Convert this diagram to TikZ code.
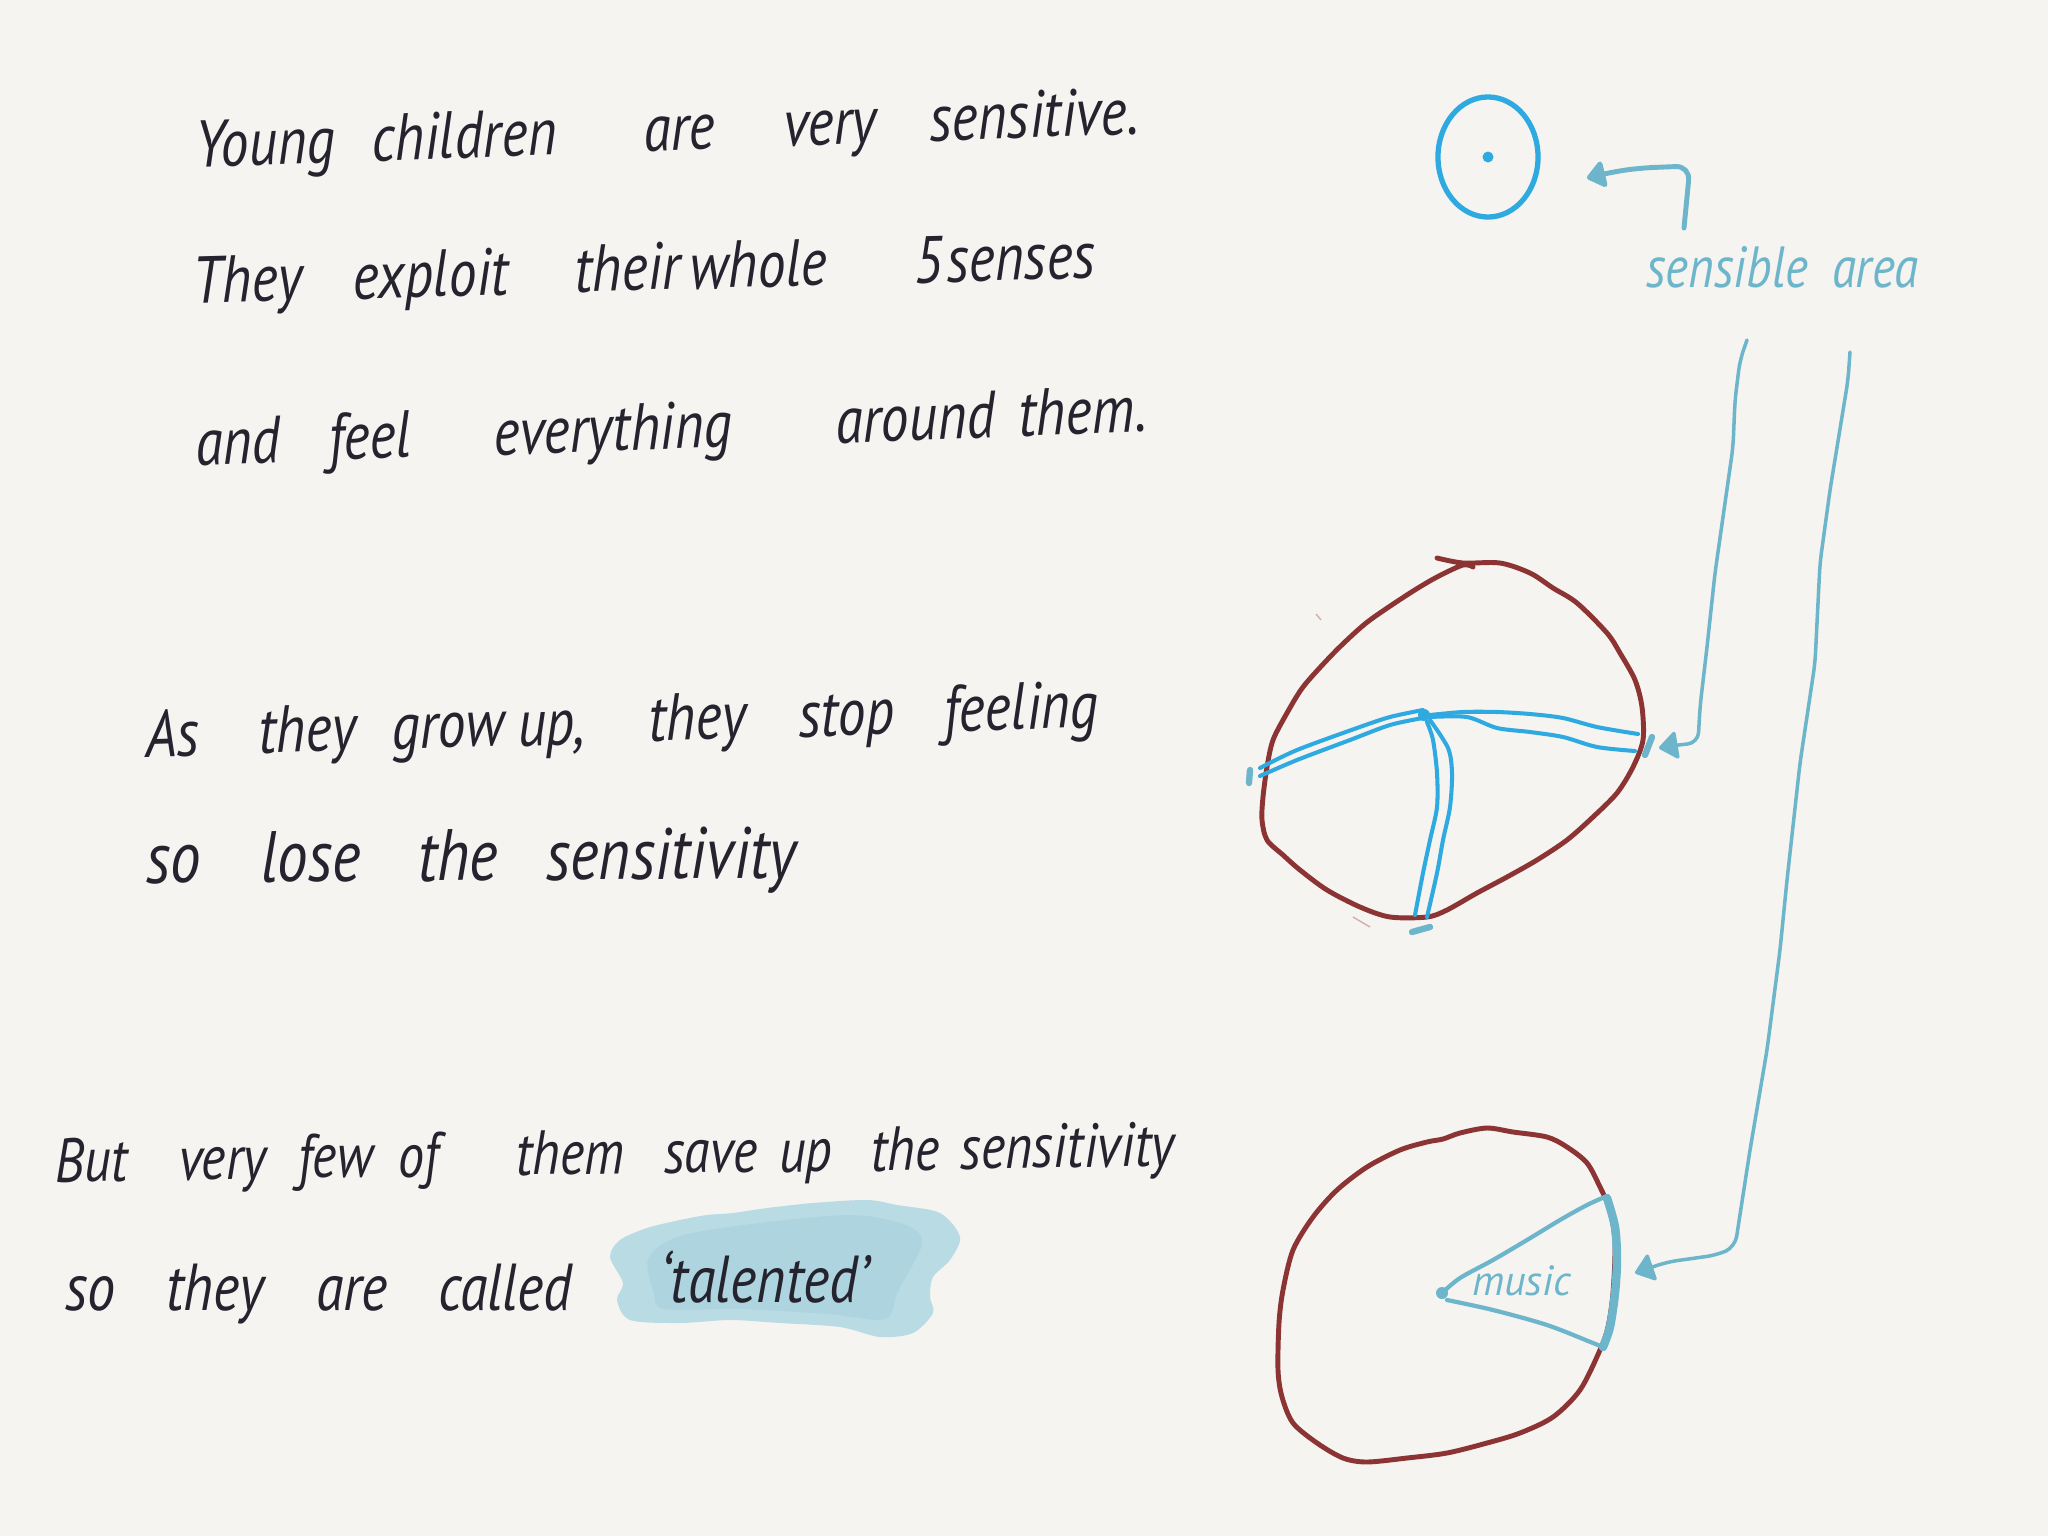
\documentclass[tikz,border=0pt]{standalone}
\usepackage{fontspec}
\usetikzlibrary{arrows.meta,shapes.geometric}
\newfontfamily\handfont{PT Sans}
\definecolor{bg}{HTML}{F5F4F0}
\definecolor{ink}{HTML}{24232E}
\definecolor{bblue}{HTML}{2FAAE1}
\definecolor{tealc}{HTML}{6DB5CB}
\definecolor{redc}{HTML}{8C3434}
\definecolor{blobout}{HTML}{B9DBE4}
\definecolor{blobin}{HTML}{9CCAD8}
\newcommand\hw[1]{\scalebox{1}[1.18]{#1}}
\begin{document}
\begin{tikzpicture}[x=0.01cm,y=-0.01cm,
  w/.style={anchor=base west, inner sep=0pt, outer sep=0pt, text=ink,
    font={\handfont\itshape\fontsize{16}{19}\selectfont}},
  w5/.style={w, font={\handfont\itshape\fontsize{17.5}{20}\selectfont}},
  w6/.style={w, font={\handfont\itshape\fontsize{15}{18}\selectfont}},
  tw/.style={anchor=base west, inner sep=0pt, outer sep=0pt, text=tealc,
    font={\handfont\itshape\fontsize{14}{17}\selectfont}},
  redline/.style={draw=redc, line width=1.4pt, line cap=round, line join=round},
  blueline/.style={draw=bblue, line width=1.15pt, line cap=round, line join=round},
  tealline/.style={draw=tealc, line width=1pt, line cap=round, line join=round},
  tealtip/.style={-{Triangle[round,length=0.2cm,width=0.3cm]}},
  tealmark/.style={draw=tealc, line width=1.8pt, line cap=round},
]
% background and frame
\fill[bg] (0,0) rectangle (2048,1536);
\useasboundingbox (0,0) rectangle (2048,1536);

% highlight blob
\fill[blobout]
  plot[smooth cycle] coordinates {(610,1257) (620,1240) (647,1228) (680,1220) (707,1215)
  (733,1213) (767,1208) (813,1203) (867,1200) (897,1205) (940,1213) (960,1237) (950,1260)
  (933,1277) (930,1297) (933,1313) (913,1333) (880,1337) (840,1327) (780,1323) (730,1320)
  (680,1323) (630,1320) (617,1300) (623,1283)};
\fill[blobin, opacity=0.4]
  plot[smooth cycle] coordinates {(648,1259) (677,1237) (744,1225) (849,1215) (906,1225)
  (922,1244) (898,1291) (885,1319) (828,1314) (742,1309) (664,1309) (654,1293)};

% line 1
\node[w,rotate=2] (w11) at (196,167) {\hw{Young}};
\node[w,rotate=2] (w12) at (372,161) {\hw{children}};
\node[w,rotate=2] (w13) at (644,151) {\hw{are}};
\node[w,rotate=2] (w14) at (784,146) {\hw{very}};
\node[w,rotate=2] (w15) at (930,141) {\hw{sensitive.}};
% line 2
\node[w,rotate=1.6] (w21) at (193,303) {\hw{They}};
\node[w,rotate=1.6] (w22) at (353,299) {\hw{exploit}};
\node[w,rotate=1.6] (w23) at (575,292) {\hw{their}};
\node[w,rotate=1.6] (w24) at (690,289) {\hw{whole}};
\node[w,rotate=1.6] (w25) at (914,283) {\hw{5}};
\node[w,rotate=1.6] (w26) at (947,282) {\hw{senses}};
% line 3
\node[w,rotate=2] (w31) at (196,465) {\hw{and}};
\node[w,rotate=2] (w32) at (329,460) {\hw{feel}};
\node[w,rotate=2] (w33) at (494,455) {\hw{everything}};
\node[w,rotate=2] (w34) at (836,443) {\hw{around}};
\node[w,rotate=2] (w35) at (1019,436) {\hw{them.}};
% line 4
\node[w,rotate=1.8] (w41) at (146,757) {\hw{As}};
\node[w,rotate=1.8] (w42) at (259,753) {\hw{they}};
\node[w,rotate=1.8] (w43) at (392,749) {\hw{grow}};
\node[w,rotate=1.8] (w44) at (518,746) {\hw{up,}};
\node[w,rotate=1.8] (w45) at (649,741) {\hw{they}};
\node[w,rotate=1.8] (w46) at (799,737) {\hw{stop}};
\node[w,rotate=1.8] (w47) at (944,732) {\hw{feeling}};
% line 5
\node[w5,rotate=0.5] (w51) at (146,883) {\hw{so}};
\node[w5,rotate=0.5] (w52) at (261,882) {\hw{lose}};
\node[w5,rotate=0.5] (w53) at (418,881) {\hw{the}};
\node[w5,rotate=0.5] (w54) at (546,880) {\hw{sensitivity}};
% line 6
\node[w6,rotate=0.8] (w61) at (55,1182) {\hw{But}};
\node[w6,rotate=0.8] (w62) at (179,1180) {\hw{very}};
\node[w6,rotate=0.8] (w63) at (298,1178) {\hw{few}};
\node[w6,rotate=0.8] (w64) at (398,1177) {\hw{of}};
\node[w6,rotate=0.8] (w65) at (516,1175) {\hw{them}};
\node[w6,rotate=0.8] (w66) at (664,1173) {\hw{save}};
\node[w6,rotate=0.8] (w67) at (779,1172) {\hw{up}};
\node[w6,rotate=0.8] (w68) at (871,1171) {\hw{the}};
\node[w6,rotate=0.8] (w69) at (960,1169) {\hw{sensitivity}};
% line 7
\node[w] (w71) at (65,1310) {\hw{so}};
\node[w] (w72) at (166,1310) {\hw{they}};
\node[w] (w73) at (316,1310) {\hw{are}};
\node[w] (w74) at (438,1310) {\hw{called}};
\node[w] (tal) at (660,1302) {\hw{‘talented’}};

% small sensible circle
\node[draw=bblue, line width=1.5pt, ellipse, minimum width=1cm, minimum height=1.2cm,
  inner sep=0pt] (sense) at (1488,157) {};
\fill[bblue] (sense.center) circle (0.055cm);

% label
\node[tw] (lab1) at (1646,287) {\hw{sensible}};
\node[tw] (lab2) at (1832,287) {\hw{area}};

% connector coordinates
\coordinate (lblT) at (1684,228);
\coordinate (tipT) at (1587,178);
\coordinate (lblL) at (1747,340);
\coordinate (tipM) at (1659,748);
\coordinate (lblR) at (1850,352);
\coordinate (tipB) at (1635,1273);

% top arrow
\draw[tealline, line width=1.4pt, tealtip, rounded corners=4pt]
  (lblT) -- (1690,166) -- (1640,168) -- (1612,172) -- (tipT);
% left arrow
\draw[tealline, tealtip, rounded corners=3pt]
  (lblL) -- (1740,360) -- (1735,400) -- (1733,447) -- (1715,573) -- (1707,647)
  -- (1700,707) -- (1698,743) -- (1677,745) -- (tipM);
% right arrow
\draw[tealline, tealtip, rounded corners=3pt]
  (lblR) -- (1848,380) -- (1830,490) -- (1820,563) -- (1815,663) -- (1800,763)
  -- (1787,880) -- (1780,950) -- (1767,1050) -- (1750,1150) -- (1735,1247)
  -- (1717,1255) -- (1667,1262) -- (tipB);

% top red circle
\draw[redline] plot[smooth] coordinates {(1437,558) (1463,563) (1500,563) (1530,573)
  (1553,588) (1577,603) (1607,633) (1620,653) (1635,680) (1642,707) (1643,740)
  (1633,767) (1617,793) (1593,817) (1567,840) (1537,860) (1507,877) (1477,893)
  (1447,910) (1427,917) (1390,917) (1360,907) (1327,890) (1300,870) (1283,855)
  (1267,840) (1262,820) (1263,797) (1267,767) (1273,740) (1287,713) (1303,687)
  (1327,660) (1347,640) (1370,620) (1410,593) (1437,577) (1463,565) (1473,567)};
\draw[redc!40, line width=0.4pt] (1316,614) -- (1321,620);
\draw[redc!40, line width=0.4pt] (1353,917) -- (1370,927);

% blue double lines
\fill[bblue] (1424,715) circle (0.06cm);
\draw[blueline] plot[smooth] coordinates {(1423,710) (1390,717) (1357,728) (1297,750) (1260,768)};
\draw[blueline] plot[smooth] coordinates {(1423,718) (1390,725) (1350,740) (1297,760) (1260,776)};
\draw[blueline] plot[smooth] coordinates {(1430,715) (1463,712) (1497,712) (1530,714) (1563,718) (1597,727) (1638,734)};
\draw[blueline] plot[smooth] coordinates {(1430,717) (1467,717) (1497,728) (1530,732) (1563,737) (1597,747) (1635,751)};
\draw[blueline] plot[smooth] coordinates {(1427,722) (1433,740) (1437,773) (1437,807) (1430,840) (1423,873) (1415,915)};
\draw[blueline] plot[smooth] coordinates {(1430,720) (1448,748) (1452,773) (1450,807) (1443,840) (1437,873) (1427,917)};
% teal end marks
\draw[tealmark] (1250,770) -- (1249,783);
\draw[tealmark] (1652,737) -- (1645,755);
\draw[tealmark] (1412,932) -- (1430,927);

% bottom red circle
\draw[redline] plot[smooth cycle] coordinates {(1443,1139) (1460,1133) (1487,1128)
  (1513,1132) (1547,1137) (1567,1147) (1587,1163) (1600,1187) (1610,1210) (1615,1243)
  (1613,1293) (1608,1327) (1600,1350) (1580,1390) (1553,1417) (1520,1433) (1487,1443)
  (1447,1453) (1407,1458) (1367,1462) (1343,1458) (1317,1443) (1293,1423) (1282,1397)
  (1278,1370) (1279,1323) (1283,1290) (1293,1250) (1313,1217) (1337,1190) (1367,1167)
  (1400,1150) (1427,1142)};

% music wedge
\fill[tealc] (1442,1293) circle (0.06cm);
\draw[tealline, line width=1.2pt] plot[smooth] coordinates {(1442,1293) (1460,1278)
  (1493,1260) (1527,1240) (1560,1220) (1587,1205) (1607,1196)};
\draw[tealline, line width=1.2pt] plot[smooth] coordinates {(1447,1300) (1493,1310)
  (1547,1325) (1593,1343) (1603,1347)};
\draw[tealline, line width=2.4pt] plot[smooth] coordinates {(1607,1198) (1615,1227)
  (1617,1260) (1615,1293) (1610,1327) (1603,1347)};
\node[tw, font={\handfont\itshape\fontsize{12}{14}\selectfont}] (mus) at (1472,1295)
  {music};
\end{tikzpicture}
\end{document}
